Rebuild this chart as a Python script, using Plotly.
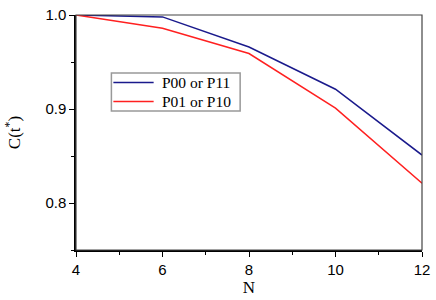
import plotly.graph_objects as go

N = [4, 6, 8, 10, 12]
p00 = [1.0, 0.998, 0.966, 0.921, 0.851]
p01 = [1.0, 0.986, 0.959, 0.901, 0.821]
names = ["P00 or P11", "P01 or P10"]
colors = ["#1a1a8c", "#ff2020"]

fig = go.Figure()
for vals, name, col in zip([p00, p01], names, colors):
    fig.add_trace(go.Scatter(x=N, y=vals, mode="lines", name=name,
                             line=dict(color=col, width=1.5), showlegend=False))

axis_common = dict(showgrid=False, zeroline=False, showline=True, linecolor="black",
                   linewidth=1.5, ticks="outside", ticklen=5, tickwidth=1.2,
                   tickcolor="black", mirror=False, ticklabeloverflow="allow",
                   tickfont=dict(family="Liberation Sans, Arial", size=15, color="black"))

serif = "Liberation Serif"
fig.update_layout(
    width=436, height=300,
    margin=dict(l=76, r=8, t=6, b=47),
    plot_bgcolor="white", paper_bgcolor="white",
    showlegend=False,
    xaxis=dict(range=[4, 12], tickvals=[4, 6, 8, 10, 12],
               minor=dict(tickvals=[5, 7, 9, 11], ticks="outside", ticklen=3, tickcolor="black"),
               title=dict(text="N", font=dict(family=serif, size=17, color="black"), standoff=4),
               **axis_common),
    yaxis=dict(range=[0.75, 1.0], tickvals=[0.8, 0.9, 1.0], ticktext=["0.8", "0.9", "1.0"],
               minor=dict(tickvals=[0.75, 0.85, 0.95], ticks="outside", ticklen=3, tickcolor="black"),
               title=dict(text="C(t<sup>*</sup>)", font=dict(family=serif, size=17, color="black"), standoff=20),
               **axis_common),
)
# top and right frame
fig.add_shape(type="rect", xref="paper", yref="paper", x0=0, y0=0, x1=1, y1=1,
              line=dict(color="#444444", width=1.2), layer="above")

# manual legend box
fig.add_shape(type="rect", xref="paper", yref="paper", x0=0.1023, x1=0.4744, y0=0.591, y1=0.753,
              line=dict(color="#999999", width=1.5), fillcolor="white", layer="above")
for i, (name, col) in enumerate(zip(names, colors)):
    yy = 0.7126 - i * 0.081
    fig.add_shape(type="line", xref="paper", yref="paper", x0=0.108, x1=0.2244, y0=yy, y1=yy,
                  line=dict(color=col, width=1.5), layer="above")
    fig.add_annotation(xref="paper", yref="paper", x=0.2415, y=yy, xanchor="left", yanchor="middle",
                       text=name, showarrow=False,
                       font=dict(family=serif, size=15.5, color="black"))

fig.write_html("out.html", config={"displayModeBar": False},
               post_script="document.body.style.margin='0';")
